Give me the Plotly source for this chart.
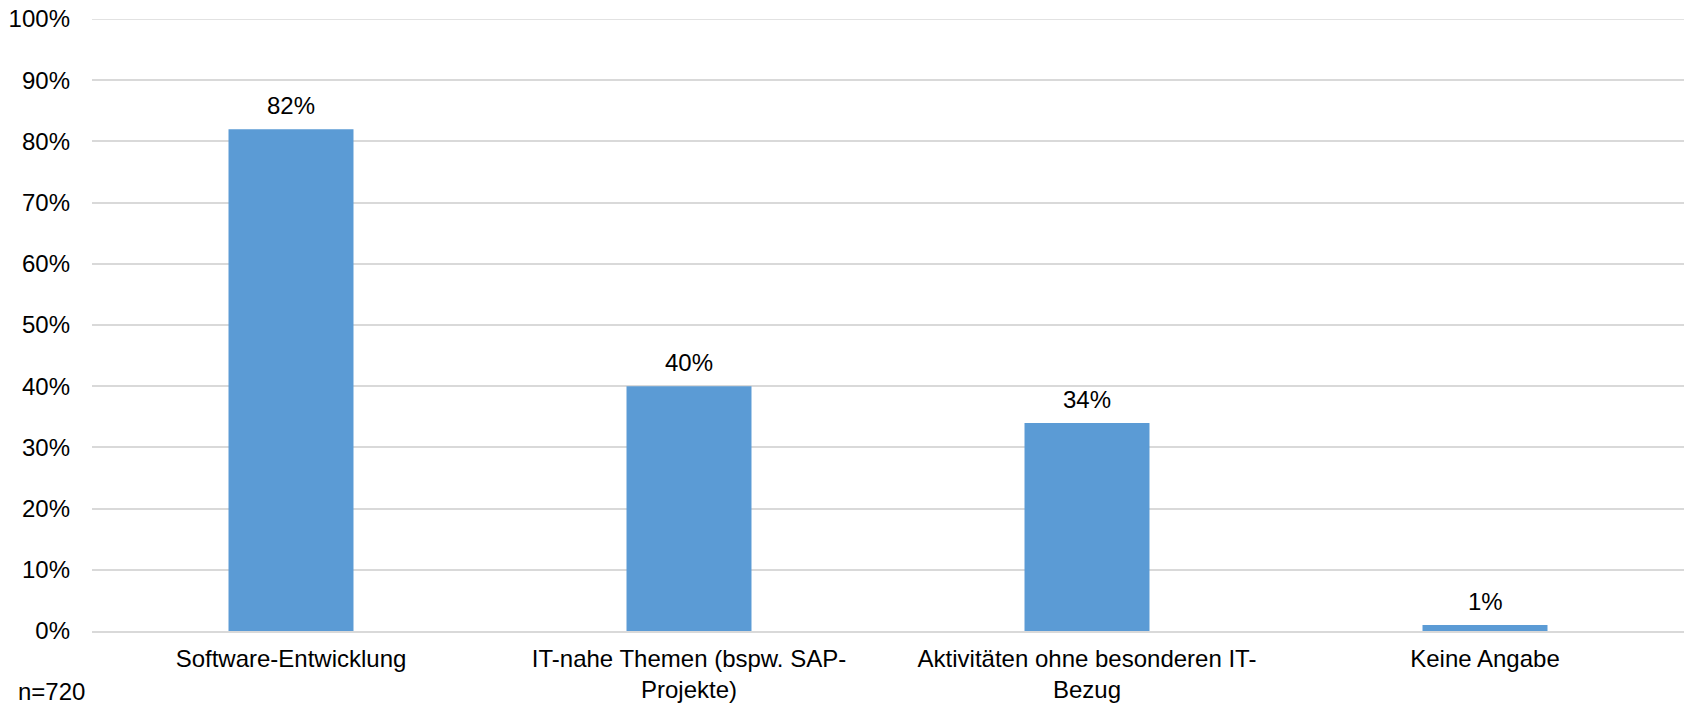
import plotly.graph_objects as go

categories = [
    "Software-Entwicklung",
    "IT-nahe Themen (bspw. SAP-<br>Projekte)",
    "Aktivitäten ohne besonderen IT-<br>Bezug",
    "Keine Angabe",
]
values = [82, 40, 34, 1]
value_labels = ["82%", "40%", "34%", "1%"]
y_ticks = list(range(0, 101, 10))
y_tick_labels = [f"{v}%" for v in y_ticks]
sample_note = "n=720"

FONT = "Liberation Sans, Arial, sans-serif"
FS = 24
BAR_COLOR = "#5B9BD5"
GRID_COLOR = "#D9D9D9"

W, H = 1684, 708
M_L, M_R, M_T, M_B = 92, 0, 19, 77

fig = go.Figure()
fig.add_trace(
    go.Bar(
        x=categories,
        y=values,
        marker=dict(color=BAR_COLOR, line=dict(width=0)),
        hoverinfo="skip",
    )
)

# value labels above each bar
for cat, val, lab in zip(categories, values, value_labels):
    fig.add_annotation(
        x=cat, y=val, xref="x", yref="y",
        text=lab, showarrow=False,
        yanchor="bottom", yshift=8,
        font=dict(family=FONT, size=FS, color="#000000"),
    )

# top gridline sits on the edge of the plot area, draw it explicitly
fig.add_shape(
    type="line", xref="paper", yref="y",
    x0=0, x1=1, y0=y_ticks[-1], y1=y_ticks[-1],
    line=dict(color=GRID_COLOR, width=1.5),
    layer="below",
)

# sample size note in the lower left corner
fig.add_annotation(
    x=(16 - M_L) / (W - M_L - M_R), y=-(707 - (H - M_B)) / (H - M_T - M_B),
    xref="paper", yref="paper",
    text=sample_note, showarrow=False,
    xanchor="left", yanchor="bottom",
    font=dict(family=FONT, size=FS, color="#000000"),
)

fig.update_layout(
    width=W, height=H,
    margin=dict(l=M_L, r=M_R, t=M_T, b=M_B, pad=0),
    paper_bgcolor="#FFFFFF",
    plot_bgcolor="#FFFFFF",
    bargap=0.686,
    showlegend=False,
    font=dict(family=FONT, size=FS, color="#000000"),
    xaxis=dict(
        showgrid=False,
        showline=True, linecolor=GRID_COLOR, linewidth=1.5,
        ticks="", tickfont=dict(family=FONT, size=FS, color="#000000"),
        ticklabelstandoff=5,
        fixedrange=True,
    ),
    yaxis=dict(
        range=[0, 100],
        tickvals=y_ticks, ticktext=y_tick_labels,
        showgrid=True, gridcolor=GRID_COLOR, gridwidth=1.5,
        zeroline=False, showline=False,
        ticks="", tickfont=dict(family=FONT, size=FS, color="#000000"),
        ticklabelstandoff=21,
        fixedrange=True,
    ),
)

fig.write_html("out.html")
